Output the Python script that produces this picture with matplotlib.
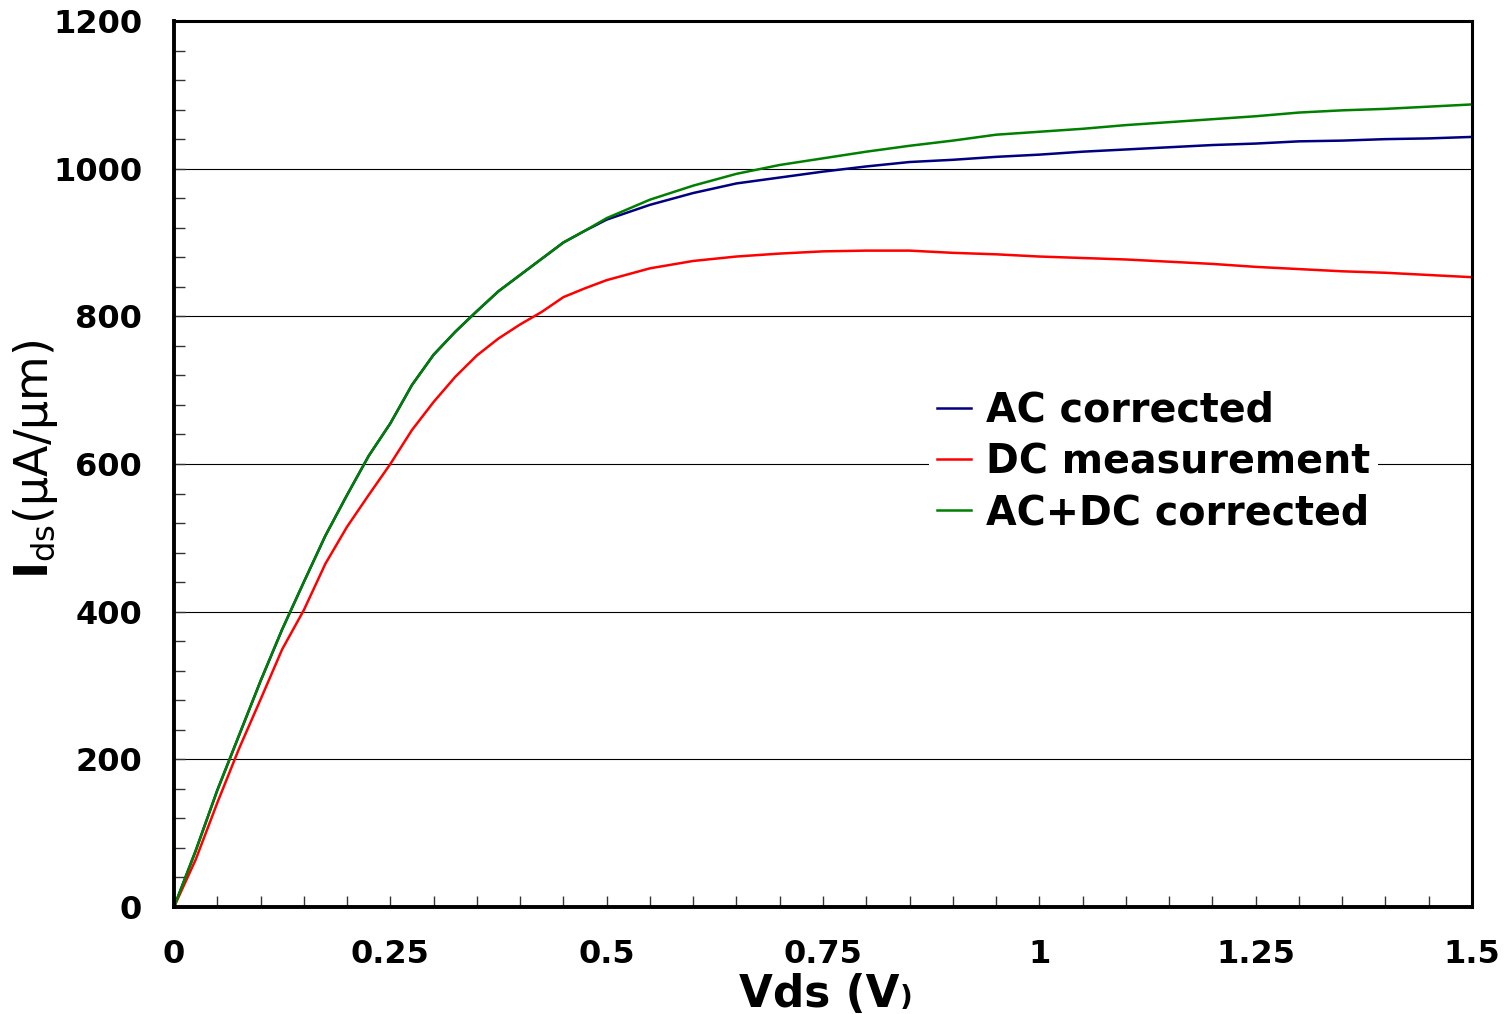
import matplotlib.pyplot as plt
from matplotlib.ticker import MultipleLocator, FixedLocator
import numpy as np

# drain voltage (V)
vds = [0.0, 0.025, 0.05, 0.075, 0.1, 0.125, 0.15, 0.175, 0.2, 0.225, 0.25,
       0.275, 0.3, 0.325, 0.35, 0.375, 0.4, 0.425, 0.45, 0.475, 0.5,
       0.55, 0.6, 0.65, 0.7, 0.75, 0.8, 0.85, 0.9, 0.95, 1.0,
       1.05, 1.1, 1.15, 1.2, 1.25, 1.3, 1.35, 1.4, 1.45, 1.5]

# drain current (uA/um)
ac_corr = [0, 76, 158, 232, 306, 376, 440, 503, 558, 611, 655,
           707, 748, 779, 807, 834, 856, 878, 900, 916, 931,
           951, 967, 980, 988, 996, 1003, 1009, 1012, 1016, 1019,
           1023, 1026, 1029, 1032, 1034, 1037, 1038, 1040, 1041, 1043]

dc_meas = [0, 64, 141, 214, 281, 349, 402, 465, 515, 558, 600,
           646, 684, 718, 747, 770, 789, 806, 826, 838, 849,
           865, 875, 881, 885, 888, 889, 889, 886, 884, 881,
           879, 877, 874, 871, 867, 864, 861, 859, 856, 853]

acdc_corr = [0, 76, 158, 232, 306, 376, 440, 503, 558, 611, 655,
             707, 748, 779, 807, 834, 856, 878, 900, 916, 933,
             958, 977, 993, 1005, 1014, 1023, 1031, 1038, 1046, 1050,
             1054, 1059, 1063, 1067, 1071, 1076, 1079, 1081, 1084, 1087]

fig = plt.figure(figsize=(15.08, 10.14), dpi=100)
ax = fig.add_axes([174/1508, 1 - 907/1014, 1298/1508, 886/1014])

ax.plot(vds, ac_corr, color="#000080", lw=1.8, label="AC corrected")
ax.plot(vds, dc_meas, color="#ff0000", lw=1.8, label="DC measurement")
ax.plot(vds, acdc_corr, color="#008000", lw=1.8, label="AC+DC corrected")

ax.set_xlim(0, 1.5)
ax.set_ylim(0, 1200)
ax.xaxis.set_major_locator(FixedLocator([0, 0.25, 0.5, 0.75, 1.0, 1.25, 1.5]))
ax.set_xticklabels(["0", "0.25", "0.5", "0.75", "1", "1.25", "1.5"])
ax.xaxis.set_minor_locator(MultipleLocator(0.05))
ax.yaxis.set_major_locator(MultipleLocator(200))
ax.yaxis.set_minor_locator(MultipleLocator(40))

ax.yaxis.grid(True, which="major", color="black", lw=0.8)
ax.set_axisbelow(True)

ax.tick_params(which="both", direction="in", length=8, width=1, color="#333333")
ax.tick_params(axis="x", which="major", pad=23)
ax.tick_params(axis="y", which="major", pad=23)
for lab in ax.get_xticklabels() + ax.get_yticklabels():
    lab.set_fontsize(23)
    lab.set_fontweight("bold")

for side in ["left", "bottom"]:
    ax.spines[side].set_linewidth(2.8)
for side in ["top", "right"]:
    ax.spines[side].set_linewidth(2.2)

ax.set_xlabel("Vds (V", fontsize=31.5, fontweight="bold")
ax.xaxis.set_label_coords(0.497, -0.075)
ax.annotate(")", xy=(1, 0.1), xycoords=ax.xaxis.label, fontsize=20,
            fontweight="bold", va="bottom", ha="left")

ax.set_ylabel(r"$\mathbf{I}_{\mathrm{ds}}$(μA/μm)", fontsize=33)
ax.yaxis.set_label_coords(-0.088, 0.505)

leg = ax.legend(loc="upper left", bbox_to_anchor=(929/1508, 1 - 383/1014),
                bbox_transform=fig.transFigure, frameon=True, fancybox=False,
                edgecolor="none", facecolor="white", framealpha=1,
                prop={"size": 28.5, "weight": "bold"}, handlelength=0.85,
                handletextpad=0.4, labelspacing=0.28, borderpad=0.2,
                borderaxespad=0)

fig.savefig("out.png", dpi=100)
